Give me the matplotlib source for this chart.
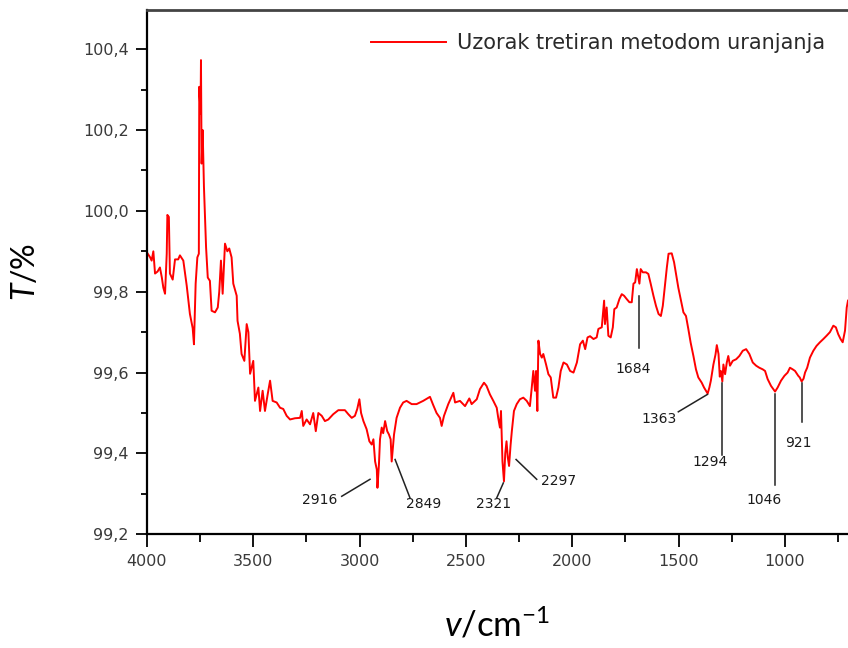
import matplotlib
matplotlib.use("Agg")
import matplotlib.pyplot as plt
from matplotlib.ticker import MultipleLocator, FuncFormatter

# FTIR spectrum: wavenumber (cm-1) and transmittance (%)
wavenumber = [
    4000, 3985, 3978, 3970, 3962, 3950, 3939, 3930, 3923, 3915, 3907, 3904, 3897, 3892,
    3879, 3868, 3853, 3845, 3829, 3813, 3798, 3785, 3779, 3771, 3763, 3756, 3754, 3748,
    3746, 3743, 3738, 3732, 3722, 3714, 3704, 3696, 3680, 3667, 3660, 3652, 3644, 3633,
    3622, 3613, 3602, 3594, 3578, 3574, 3563, 3555, 3542, 3531, 3523, 3515, 3500, 3492,
    3476, 3468, 3456, 3445, 3432, 3421, 3409, 3390, 3374, 3359, 3343, 3327, 3304, 3280,
    3272, 3265, 3249, 3233, 3218, 3206, 3194, 3178, 3163, 3147, 3124, 3100, 3069, 3053,
    3037, 3022, 3011, 3001, 2993, 2982, 2967, 2954, 2943, 2935, 2927, 2919, 2916, 2909,
    2904, 2896, 2889, 2880, 2870, 2862, 2854, 2849, 2838, 2826, 2810, 2795, 2779, 2755,
    2732, 2701, 2669, 2654, 2638, 2622, 2614, 2603, 2583, 2559, 2551, 2528, 2504, 2484,
    2473, 2449, 2434, 2415, 2403, 2387, 2371, 2355, 2348, 2340, 2335, 2328, 2321, 2315,
    2309, 2303, 2297, 2290, 2284, 2274, 2261, 2246, 2230, 2214, 2199, 2191, 2183, 2175,
    2170, 2164, 2159, 2151, 2143, 2136, 2123, 2112, 2101, 2089, 2076, 2065, 2054, 2041,
    2025, 2010, 1994, 1978, 1963, 1950, 1939, 1928, 1916, 1900, 1885, 1877, 1861, 1850,
    1846, 1838, 1830, 1819, 1809, 1802, 1791, 1778, 1767, 1756, 1744, 1731, 1720, 1712,
    1704, 1696, 1684, 1678, 1668, 1653, 1642, 1631, 1618, 1606, 1594, 1583, 1574, 1563,
    1555, 1547, 1532, 1521, 1512, 1501, 1490, 1477, 1465, 1454, 1443, 1430, 1418, 1407,
    1391, 1380, 1372, 1363, 1355, 1348, 1336, 1326, 1320, 1312, 1306, 1301, 1294, 1289,
    1281, 1273, 1266, 1258, 1245, 1229, 1214, 1198, 1182, 1167, 1151, 1135, 1120, 1104,
    1093, 1081, 1065, 1046, 1034, 1018, 1002, 987, 976, 963, 952, 937, 930, 921,
    912, 905, 895, 882, 866, 851, 835, 819, 804, 788, 772, 760, 749, 738,
    728, 717, 709, 703,
]
transmittance = [
    99.897, 99.885, 99.877, 99.900, 99.845, 99.850, 99.860, 99.835, 99.810, 99.795, 99.894, 99.990, 99.985, 99.845,
    99.830, 99.880, 99.880, 99.890, 99.877, 99.815, 99.745, 99.710, 99.670, 99.820, 99.885, 99.894, 100.307, 100.240,
    100.373, 100.117, 100.200, 100.060, 99.910, 99.835, 99.827, 99.753, 99.749, 99.761, 99.800, 99.877, 99.795, 99.919,
    99.900, 99.907, 99.885, 99.820, 99.790, 99.728, 99.696, 99.646, 99.629, 99.720, 99.700, 99.597, 99.629, 99.530,
    99.563, 99.505, 99.555, 99.505, 99.547, 99.580, 99.530, 99.526, 99.513, 99.510, 99.493, 99.484, 99.487, 99.488,
    99.505, 99.468, 99.484, 99.472, 99.500, 99.455, 99.500, 99.493, 99.480, 99.484, 99.497, 99.507, 99.507, 99.497,
    99.488, 99.493, 99.510, 99.534, 99.500, 99.480, 99.460, 99.430, 99.422, 99.435, 99.380, 99.360, 99.315, 99.373,
    99.435, 99.464, 99.450, 99.480, 99.455, 99.447, 99.435, 99.380, 99.447, 99.488, 99.513, 99.526, 99.530, 99.522,
    99.522, 99.530, 99.540, 99.520, 99.500, 99.488, 99.468, 99.493, 99.522, 99.550, 99.526, 99.530, 99.517, 99.536,
    99.522, 99.534, 99.559, 99.575, 99.567, 99.546, 99.530, 99.513, 99.488, 99.464, 99.505, 99.380, 99.331, 99.400,
    99.430, 99.390, 99.369, 99.420, 99.455, 99.505, 99.522, 99.534, 99.538, 99.530, 99.517, 99.559, 99.604, 99.555,
    99.604, 99.505, 99.679, 99.646, 99.637, 99.646, 99.620, 99.596, 99.588, 99.538, 99.538, 99.563, 99.604, 99.625,
    99.620, 99.604, 99.600, 99.625, 99.670, 99.679, 99.658, 99.687, 99.690, 99.683, 99.687, 99.708, 99.712, 99.778,
    99.720, 99.761, 99.691, 99.687, 99.712, 99.757, 99.761, 99.782, 99.794, 99.790, 99.782, 99.774, 99.774, 99.820,
    99.823, 99.856, 99.820, 99.856, 99.848, 99.848, 99.844, 99.820, 99.790, 99.765, 99.745, 99.740, 99.765, 99.820,
    99.860, 99.894, 99.895, 99.873, 99.844, 99.810, 99.782, 99.749, 99.740, 99.708, 99.674, 99.641, 99.608, 99.588,
    99.575, 99.563, 99.556, 99.548, 99.563, 99.580, 99.620, 99.645, 99.668, 99.646, 99.590, 99.604, 99.578, 99.620,
    99.596, 99.625, 99.641, 99.617, 99.629, 99.633, 99.641, 99.654, 99.658, 99.646, 99.625, 99.617, 99.612, 99.608,
    99.604, 99.584, 99.567, 99.553, 99.563, 99.580, 99.592, 99.600, 99.612, 99.608, 99.604, 99.592, 99.588, 99.578,
    99.585, 99.600, 99.612, 99.637, 99.654, 99.666, 99.675, 99.683, 99.691, 99.700, 99.716, 99.712, 99.695, 99.683,
    99.675, 99.704, 99.761, 99.778,
]

# Band labels: label value, leader line (curve end, label end) and label centre
band_labels = ["2916", "2849", "2321", "2297", "1684", "1363", "1294", "1046", "921"]
leader_from = [(2951, 99.336), (2833, 99.385), (2324, 99.327), (2264, 99.385), (1684, 99.790),
               (1364, 99.546), (1294, 99.575), (1046, 99.546), (921, 99.575)]
leader_to = [(3084, 99.294), (2763, 99.290), (2355, 99.290), (2167, 99.336), (1684, 99.662),
             (1501, 99.503), (1294, 99.396), (1046, 99.323), (921, 99.478)]
label_pos = [(3186, 99.284), (2700, 99.274), (2371, 99.274), (2062, 99.333), (1712, 99.610),
             (1592, 99.486), (1352, 99.379), (1098, 99.284), (936, 99.426)]

series_name = "Uzorak tretiran metodom uranjanja"

plt.rcParams["mathtext.fontset"] = "custom"
plt.rcParams["mathtext.rm"] = "Lato"
plt.rcParams["mathtext.it"] = "Lato:italic"

fig = plt.figure(figsize=(8.48, 6.48), dpi=100)
ax = fig.add_axes([0.1733, 0.1755, 0.8267, 0.8091])

ax.plot(wavenumber, transmittance, color="#ff0000", linewidth=1.4, label=series_name)

for lab, p0, p1, pt in zip(band_labels, leader_from, leader_to, label_pos):
    ax.plot([p0[0], p1[0]], [p0[1], p1[1]], color="#222222", linewidth=1.1)
    ax.text(pt[0], pt[1], lab, ha="center", va="center", fontsize=10, color="#1a1a1a",
            family="DejaVu Sans")

ax.set_xlim(4000, 703)
ax.set_ylim(99.2, 100.497)
ax.xaxis.set_major_locator(MultipleLocator(500))
ax.xaxis.set_minor_locator(MultipleLocator(250))
ax.yaxis.set_major_locator(MultipleLocator(0.2))
ax.yaxis.set_minor_locator(MultipleLocator(0.1))
ax.yaxis.set_major_formatter(FuncFormatter(lambda v, p: f"{v:.1f}".replace(".", ",")))
ax.xaxis.set_major_formatter(FuncFormatter(lambda v, p: f"{v:.0f}"))

ax.tick_params(which="major", direction="out", length=8, width=1.3, colors="black",
               labelcolor="#3a3a3a", labelsize=11.5, pad=5)
ax.tick_params(which="minor", direction="out", length=4.5, width=1.3, colors="black")
ax.tick_params(axis="x", which="major", length=9)
ax.tick_params(axis="x", which="minor", length=5.5)

ax.spines["right"].set_visible(False)
ax.spines["left"].set_linewidth(1.6)
ax.spines["bottom"].set_linewidth(1.6)
ax.spines["top"].set_linewidth(2.0)
ax.spines["top"].set_color("#444444")

ax.set_ylabel(r"$T$/%", fontsize=23, family="Lato", labelpad=30)
ax.set_xlabel(r"$v$/cm$^{-1}$", fontsize=25, family="Lato", labelpad=28)

leg = ax.legend(loc="upper right", frameon=False, fontsize=15, handlelength=3.6,
                handletextpad=0.55, borderaxespad=0.7)
for t in leg.get_texts():
    t.set_color("#2a2a2a")

fig.savefig("out.png", dpi=100, facecolor="white")
